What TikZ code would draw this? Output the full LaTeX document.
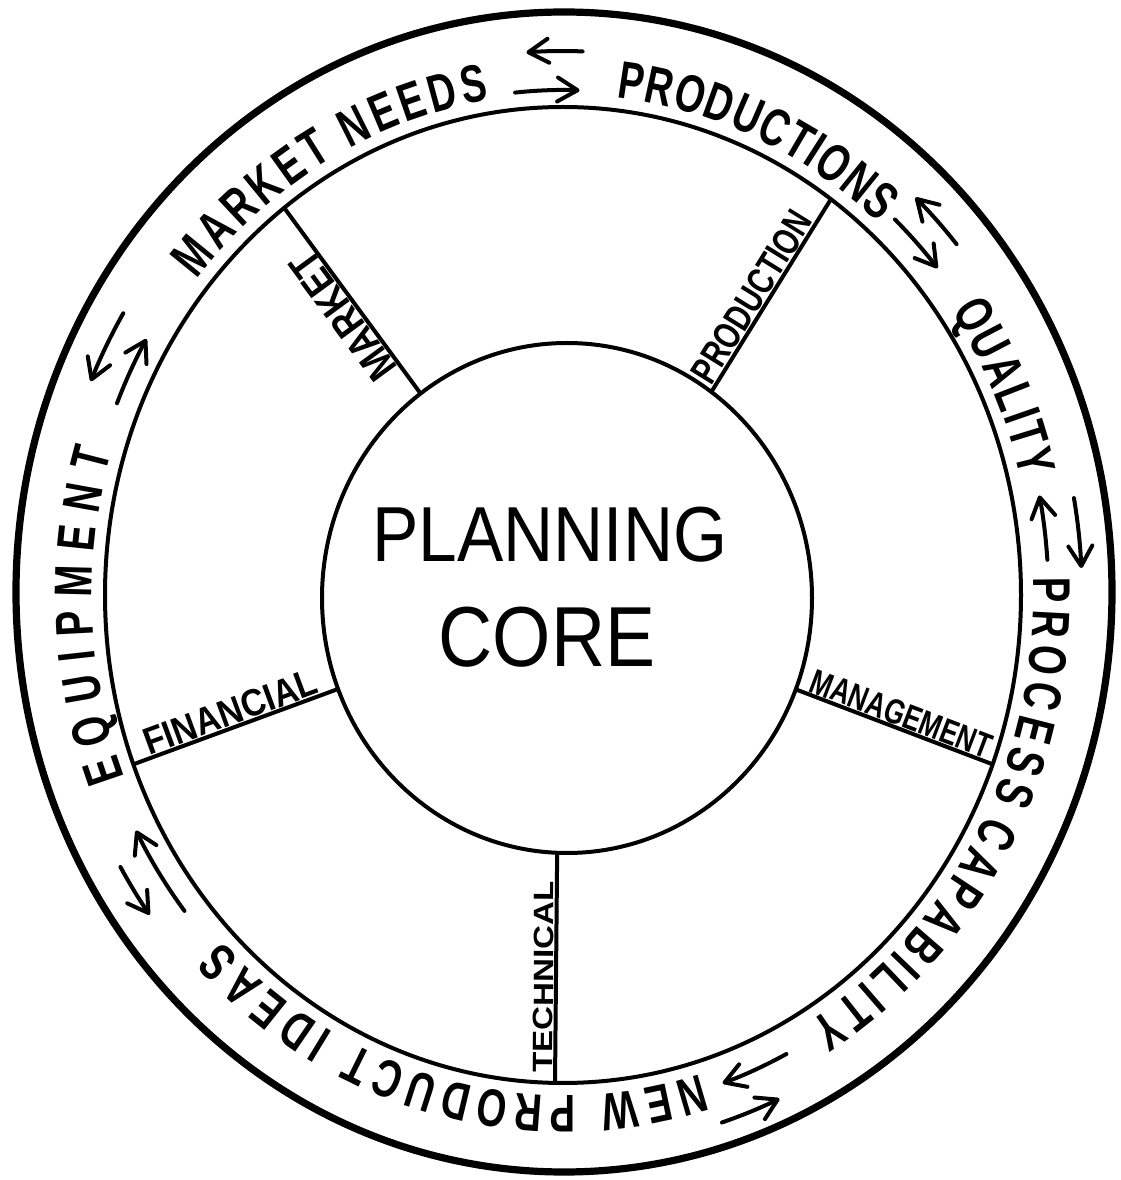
\documentclass[tikz,border=0pt]{standalone}
\usepackage{fontspec}
\setmainfont{Liberation Sans}
\newfontfamily\ringfont[FakeStretch=0.72]{Liberation Sans Bold}
\newfontfamily\labfont{Liberation Sans Bold}
\usetikzlibrary{decorations.text,arrows.meta,shapes.geometric,calc}
\newcommand\ringlabel[3]{%
  \path[decorate,decoration={text along path,text={|\ringfont\fontsize{26.5pt}{30pt}\selectfont|#3},text align={fit to path}}]
    ($(ic)+(#1:471 and 501)$) arc[start angle=#1,end angle=#2,x radius=471,y radius=501];}
\newcommand\ringarrow[4]{%
  \draw[rarrow] ($(ic)+(#1:#3 and #4)$) arc[start angle=#1,end angle=#2,x radius=#3,y radius=#4];}
\begin{document}
\begin{tikzpicture}[x=0.5pt,y=0.5pt,
  ringline/.style={line width=2pt},
  outline/.style={line width=3.6pt},
  spoke/.style={line width=2pt},
  rarrow/.style={line width=2pt,line cap=round,-{Straight Barb[length=10pt,width=12pt,round]}},
  spokelab/.style={inner sep=1pt,anchor=south},
  corelab/.style={inner sep=0pt}]
\useasboundingbox (0,0) rectangle (1121,1180);
\coordinate (oc) at (564,588);
\coordinate (ic) at (563,585);
\draw[outline] (oc) ellipse[x radius=548,y radius=580];
\draw[ringline] (ic) ellipse[x radius=458,y radius=488];
\node[draw,ellipse,line width=2pt,minimum width=245pt,minimum height=255pt,inner sep=0pt] (core) at (567,582) {};

% spoke end points
\coordinate (mkA) at ($(core.center)+(126.7:245 and 255)$);
\coordinate (mkB) at ($(ic)+(127.5:458 and 488)$);
\coordinate (prA) at ($(core.center)+(53.9:245 and 255)$);
\coordinate (prB) at ($(ic)+(54.2:458 and 488)$);
\coordinate (mgA) at ($(core.center)+(-21:245 and 255)$);
\coordinate (mgB) at ($(ic)+(-20.3:458 and 488)$);
\coordinate (fiA) at ($(ic)+(200.3:458 and 488)$);
\coordinate (fiB) at ($(core.center)+(200.9:245 and 255)$);
\coordinate (teA) at ($(ic)+(-91:458 and 488)$);
\coordinate (teB) at ($(core.center)+(-92.3:245 and 255)$);

\draw[spoke] (mkA) -- (mkB);
\draw[spoke] (prA) -- (prB);
\draw[spoke] (mgA) -- (mgB);
\draw[spoke] (fiA) -- (fiB);
\draw[spoke] (teA) -- (teB);

% spoke labels
\path (mkA) -- (mkB) node[spokelab,pos=0.47,rotate=126.3,font=\labfont\fontsize{21pt}{21pt}\selectfont] (lblMarket) {\scalebox{0.83}[1]{MARKET}};
\path (prA) -- (prB) node[spokelab,pos=0.45,rotate=58.2,font=\labfont\fontsize{19pt}{19pt}\selectfont] (lblProduction) {\scalebox{0.76}[1]{PRODUCTION}};
\path (mgA) -- (mgB) node[spokelab,pos=0.51,rotate=-20.8,font=\labfont\fontsize{17.5pt}{18pt}\selectfont] (lblManagement) {\scalebox{0.75}[1]{MANAGEMENT}};
\path (fiA) -- (fiB) node[spokelab,pos=0.5,rotate=20.2,font=\labfont\fontsize{19pt}{19pt}\selectfont] (lblFinancial) {\scalebox{0.89}[1]{FINANCIAL}};
\path (teA) -- (teB) node[spokelab,pos=0.46,rotate=89.5,font=\labfont\fontsize{14pt}{14pt}\selectfont] (lblTechnical) {\scalebox{1.18}[1]{TECHNICAL}};

% core text
\node[corelab,font=\fontsize{39pt}{39pt}\selectfont] (planning) at (550,645) {\scalebox{0.89}[1]{PLANNING}};
\node[corelab,font=\fontsize{42.6pt}{43pt}\selectfont] (coretext) at (547,543) {\scalebox{0.88}[1]{CORE}};

% ring labels
\ringlabel{141}{99}{MARKET NEEDS}
\ringlabel{83.5}{48}{PRODUCTIONS}
\ringlabel{34.5}{13.5}{QUALITY}
\ringlabel{2}{-24}{PROCESS}
\ringlabel{-26}{-58.6}{CAPABILITY}
\ringlabel{-73}{-136.3}{NEW PRODUCT IDEAS}
\ringlabel{201.4}{163.4}{EQUIPMENT}

% two-way arrows in the ring
\ringarrow{87.8}{94.1}{511}{544}
\ringarrow{95.8}{88}{474}{505}
\ringarrow{39.9}{46.6}{513}{547}
\ringarrow{46.7}{39.3}{484}{516}
\ringarrow{3.9}{11.1}{485.5}{517}
\ringarrow{10.1}{2.8}{519}{553}
\ringarrow{-62.6}{-70.8}{485.5}{517}
\ringarrow{-72.2}{-65.4}{520}{554}
\ringarrow{218.1}{207.4}{481}{512}
\ringarrow{210}{216}{511}{544}
\ringarrow{149}{157}{513}{547}
\ringarrow{158}{150}{481}{512}
\end{tikzpicture}
\end{document}
